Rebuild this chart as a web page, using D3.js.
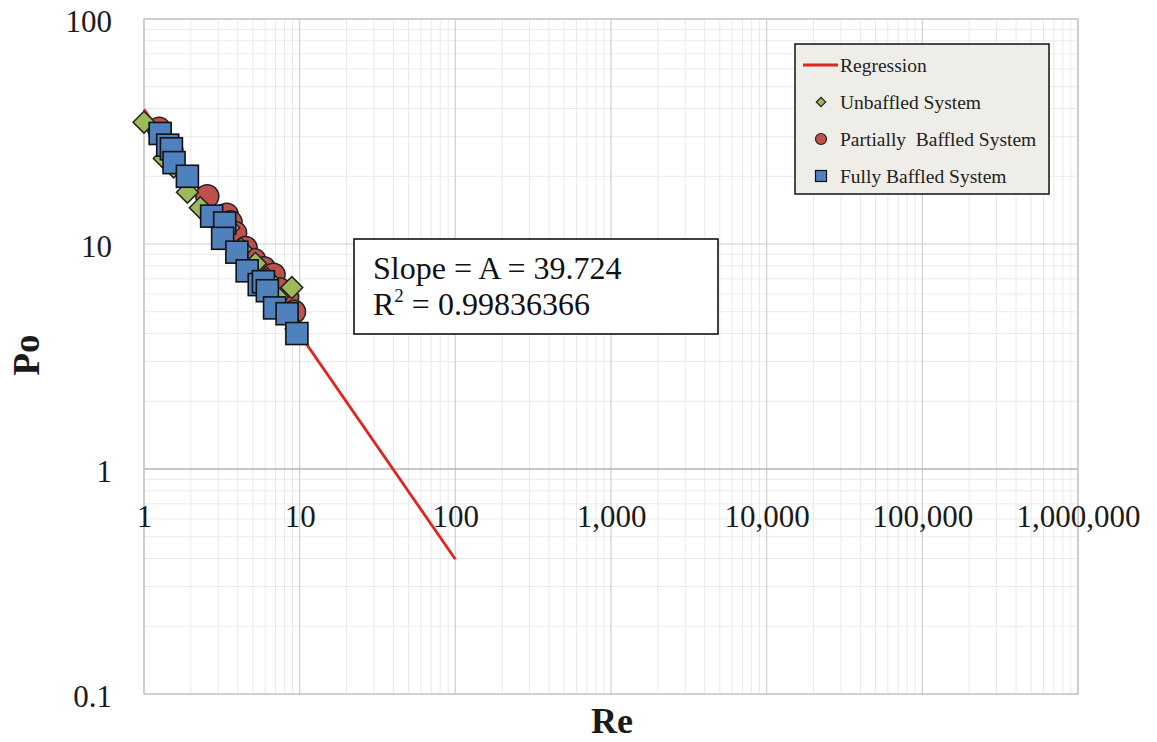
<!DOCTYPE html>
<html>
<head>
<meta charset="utf-8">
<script src="https://cdn.jsdelivr.net/npm/d3@7"></script>
<style>
  body { margin: 0; background: #fff; }
  svg { display: block; font-family: "Liberation Serif", "Times New Roman", serif; }
</style>
</head>
<body>
<svg width="1157" height="742"></svg>
<script>
// axis ticks
const reTicks = [1, 10, 100, 1000, 10000, 100000, 1000000];
const poTicks = [0.1, 1, 10, 100];

// regression Po = A / Re
const regressionRe = [1, 100];
const regressionPo = [39.724, 0.39724];
const slopeText = "Slope = A = 39.724";
const r2Value = "0.99836366";

// Unbaffled System
const unbaffledRe = [1.0, 1.35, 1.55, 1.9, 2.3, 2.9, 3.5, 4.2, 5.2, 6.2, 7.2, 8.9, 9.5];
const unbaffledPo = [34.8, 24, 22, 17, 14.5, 13, 11.8, 9.5, 8.2, 7.0, 5.8, 6.4, 4.2];

// Partially Baffled System
const partialRe = [1.25, 1.5, 2.55, 3.4, 3.6, 3.85, 4.5, 5.1, 5.9, 6.8, 7.4, 8.3, 9.2];
const partialPo = [32.5, 26, 16.3, 13.5, 12.5, 11.2, 9.6, 8.5, 7.8, 7.3, 6.3, 5.8, 5.0];

// Fully Baffled System
const fullyRe = [1.27, 1.42, 1.5, 1.56, 1.9, 2.72, 3.3, 3.2, 3.95, 4.6, 5.5, 5.85, 6.2, 6.9, 8.3, 9.6];
const fullyPo = [31, 27.5, 26.5, 23, 20, 13.3, 12.4, 10.6, 9.2, 7.6, 6.6, 6.8, 6.2, 5.2, 4.9, 4.0];

const legendLabels = ["Regression", "Unbaffled System", "Partially  Baffled System", "Fully Baffled System"];

const plot = {left: 144, right: 1078, top: 19, bottom: 694};
const colors = {line: "#e0241f", green: "#9bbb59", red: "#c0504d", blue: "#4f81bd"};

function zip(xs, ys){
  return xs.map(function(v, i){ return {re: v, po: ys[i]}; });
}

function isMajor(v){
  var l = Math.log10(v);
  return Math.abs(l - Math.round(l)) < 1e-9;
}

function renderGrid(svg, x, y){
  var g = svg.append("g").attr("class", "grid");
  var xt = x.ticks(), yt = y.ticks();
  // minor first, majors on top
  g.selectAll(".vminor").data(xt.filter(function(d){ return !isMajor(d); }))
    .enter().append("line")
    .attr("x1", function(d){ return x(d); }).attr("x2", function(d){ return x(d); })
    .attr("y1", plot.top).attr("y2", plot.bottom)
    .attr("stroke", "#e9e9e9").attr("stroke-width", 1);
  g.selectAll(".hminor").data(yt.filter(function(d){ return !isMajor(d); }))
    .enter().append("line")
    .attr("y1", function(d){ return y(d); }).attr("y2", function(d){ return y(d); })
    .attr("x1", plot.left).attr("x2", plot.right)
    .attr("stroke", "#e9e9e9").attr("stroke-width", 1);
  g.selectAll(".vmajor").data(reTicks)
    .enter().append("line")
    .attr("x1", function(d){ return x(d); }).attr("x2", function(d){ return x(d); })
    .attr("y1", plot.top).attr("y2", plot.bottom)
    .attr("stroke", "#cfcfcf").attr("stroke-width", 1.2);
  g.selectAll(".hmajor").data(poTicks)
    .enter().append("line")
    .attr("y1", function(d){ return y(d); }).attr("y2", function(d){ return y(d); })
    .attr("x1", plot.left).attr("x2", plot.right)
    .attr("stroke", function(d){ return d === 1 ? "#b5b5b5" : "#cfcfcf"; })
    .attr("stroke-width", function(d){ return d === 1 ? 1.5 : 1.2; });
  g.append("rect")
    .attr("x", plot.left).attr("y", plot.top)
    .attr("width", plot.right - plot.left).attr("height", plot.bottom - plot.top)
    .attr("fill", "none").attr("stroke", "#c8c8c8").attr("stroke-width", 1.5);
}

function renderAxes(svg, x, y){
  // Re labels sit on the Po = 1 line
  var xAxis = d3.axisBottom(x).tickValues(reTicks).tickSize(0).tickFormat(d3.format(","));
  svg.append("g")
    .attr("transform", "translate(0," + y(1) + ")")
    .call(xAxis)
    .call(function(g){
      g.select(".domain").remove();
      g.selectAll(".tick text")
        .attr("y", 58).attr("dy", 0)
        .attr("font-size", 31).attr("font-family", "Liberation Serif").attr("fill", "#1a1a1a");
    });

  var yAxis = d3.axisLeft(y).tickValues(poTicks).tickSize(0).tickFormat(function(d){ return String(d); });
  svg.append("g")
    .attr("transform", "translate(" + plot.left + ",0)")
    .call(yAxis)
    .call(function(g){
      g.select(".domain").remove();
      g.selectAll(".tick text")
        .attr("x", -32).attr("dy", 12)
        .attr("font-size", 31).attr("font-family", "Liberation Serif").attr("fill", "#1a1a1a");
    });

  svg.append("text")
    .attr("x", 612).attr("y", 733)
    .attr("text-anchor", "middle")
    .attr("font-size", 36).attr("font-weight", "bold").attr("fill", "#1a1a1a")
    .text("Re");
  svg.append("text")
    .attr("transform", "translate(39,355) rotate(-90)")
    .attr("text-anchor", "middle")
    .attr("font-size", 37).attr("font-weight", "bold").attr("fill", "#1a1a1a")
    .text("Po");
}

function renderData(svg, x, y){
  var line = d3.line().x(function(d){ return x(d.re); }).y(function(d){ return y(d.po); });
  svg.append("path")
    .datum(zip(regressionRe, regressionPo))
    .attr("d", line)
    .attr("fill", "none").attr("stroke", colors.line).attr("stroke-width", 2.8);

  var sym = d3.symbol();
  svg.append("g").selectAll("circle").data(zip(partialRe, partialPo))
    .enter().append("circle")
    .attr("cx", function(d){ return x(d.re); }).attr("cy", function(d){ return y(d.po); })
    .attr("r", 11.5)
    .attr("fill", colors.red).attr("stroke", "#222").attr("stroke-width", 1.5);

  svg.append("g").selectAll("path").data(zip(unbaffledRe, unbaffledPo))
    .enter().append("path")
    .attr("transform", function(d){ return "translate(" + x(d.re) + "," + y(d.po) + ") rotate(45)"; })
    .attr("d", sym.type(d3.symbolSquare).size(240)())
    .attr("fill", colors.green).attr("stroke", "#222").attr("stroke-width", 1.5);

  svg.append("g").selectAll("rect").data(zip(fullyRe, fullyPo))
    .enter().append("rect")
    .attr("x", function(d){ return x(d.re) - 11; }).attr("y", function(d){ return y(d.po) - 11; })
    .attr("width", 22).attr("height", 22)
    .attr("fill", colors.blue).attr("stroke", "#111").attr("stroke-width", 1.6);
}

function renderLegend(svg){
  var g = svg.append("g").attr("transform", "translate(795,44)");
  g.append("rect").attr("width", 254).attr("height", 150)
    .attr("fill", "#efede7").attr("stroke", "#111").attr("stroke-width", 1.5);
  var rowY = [21, 58, 95, 132];
  g.append("line").attr("x1", 8).attr("x2", 43).attr("y1", rowY[0]).attr("y2", rowY[0])
    .attr("stroke", colors.line).attr("stroke-width", 2.8);
  g.append("path").attr("transform", "translate(26," + rowY[1] + ") rotate(45)")
    .attr("d", d3.symbol().type(d3.symbolSquare).size(44)())
    .attr("fill", colors.green).attr("stroke", "#222").attr("stroke-width", 1.2);
  g.append("circle").attr("cx", 26).attr("cy", rowY[2]).attr("r", 5.5)
    .attr("fill", colors.red).attr("stroke", "#222").attr("stroke-width", 1.2);
  g.append("rect").attr("x", 20.5).attr("y", rowY[3] - 5.5).attr("width", 11).attr("height", 11)
    .attr("fill", colors.blue).attr("stroke", "#111").attr("stroke-width", 1.2);
  g.selectAll("text.lab").data(legendLabels)
    .enter().append("text")
    .attr("x", 45).attr("y", function(d, i){ return rowY[i] + 7; })
    .attr("font-size", 19.5).attr("fill", "#222")
    .style("white-space", "pre").attr("xml:space", "preserve")
    .text(function(d){ return d; });
}

function renderNote(svg){
  var g = svg.append("g").attr("transform", "translate(354,239)");
  g.append("rect").attr("width", 364).attr("height", 95)
    .attr("fill", "#fff").attr("stroke", "#111").attr("stroke-width", 1.6);
  g.append("text").attr("x", 19).attr("y", 40)
    .attr("font-size", 32).attr("fill", "#111").text(slopeText);
  var t = g.append("text").attr("x", 19).attr("y", 76).attr("font-size", 32).attr("fill", "#111");
  t.append("tspan").text("R");
  t.append("tspan").attr("font-size", 19).attr("dy", -13).text("2");
  t.append("tspan").attr("dy", 13).text(" = " + r2Value);
}

function renderChart(){
  var svg = d3.select("svg");
  var x = d3.scaleLog().domain([1, 1000000]).range([plot.left, plot.right]);
  var y = d3.scaleLog().domain([0.1, 100]).range([plot.bottom, plot.top]);
  renderGrid(svg, x, y);
  renderAxes(svg, x, y);
  renderData(svg, x, y);
  renderLegend(svg);
  renderNote(svg);
}

renderChart();
</script>
</body>
</html>
